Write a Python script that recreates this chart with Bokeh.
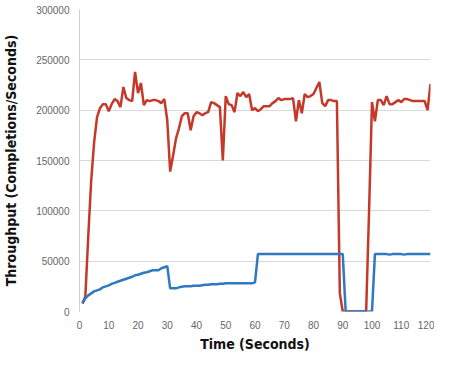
from bokeh.plotting import figure
from bokeh.models import Range1d, FixedTicker, NumeralTickFormatter
from bokeh.embed import file_html
from bokeh.resources import INLINE

time_s = list(range(1, 121))

red_throughput = [
    8000, 15000, 75000, 130000, 168000, 193000, 202000, 206000, 206000, 199000,
    206000, 211000, 209000, 203000, 223000, 212000, 210000, 209000, 238000, 217000,
    227000, 205000, 210000, 209000, 210000, 210000, 209000, 207000, 211000, 190000,
    139000, 155000, 172000, 182000, 194000, 197000, 197000, 180000, 194000, 198000,
    197000, 195000, 197000, 198000, 208000, 207000, 205000, 203000, 150000, 214000,
    206000, 205000, 198000, 217000, 214000, 218000, 213000, 216000, 200000, 202000,
    199000, 201000, 204000, 204000, 204000, 207000, 209000, 212000, 210000, 211000,
    211000, 211000, 212000, 189000, 210000, 197000, 216000, 213000, 214000, 216000,
    222000, 228000, 207000, 204000, 210000, 210000, 209000, 209000, 18000, 0,
    0, 0, 0, 0, 0, 0, 0, 0, 100000, 208000,
    189000, 210000, 210000, 205000, 214000, 206000, 206000, 208000, 210000, 208000,
    211000, 211000, 210000, 209000, 209000, 209000, 209000, 209000, 200000, 226000,
]

blue_throughput = [
    8000, 13000, 16000, 18000, 20000, 21000, 22000, 24000, 25000, 26000,
    27500, 28500, 29500, 30500, 31500, 32500, 33500, 34500, 36000, 36500,
    37500, 38500, 39000, 40000, 41000, 41000, 41000, 43000, 44000, 45000,
    23000, 23000, 23000, 24000, 24500, 25000, 25000, 25000, 25500, 25500,
    25500, 26000, 26500, 26500, 27000, 27000, 27000, 27500, 27500, 28000,
    28000, 28000, 28000, 28000, 28000, 28000, 28000, 28000, 28000, 29000,
    57000, 57000, 57000, 57000, 57000, 57000, 57000, 57000, 57000, 57000,
    57000, 57000, 57000, 57000, 57000, 57000, 57000, 57000, 57000, 57000,
    57000, 57000, 57000, 57000, 57000, 57000, 57000, 57000, 57000, 57000,
    0, 0, 0, 0, 0, 0, 0, 0, 0, 0,
    57000, 57000, 57000, 57000, 57000, 56500, 57000, 57000, 57000, 57000,
    56500, 57000, 57000, 57000, 57000, 57000, 57000, 57000, 57000, 57000,
]

x_ticks = list(range(0, 121, 10))
y_ticks = list(range(0, 300001, 50000))

p = figure(width=434, height=354, output_backend="svg", toolbar_location=None,
           x_range=Range1d(0, 120), y_range=Range1d(0, 300000),
           min_border_left=71, min_border_right=4, min_border_top=9, min_border_bottom=0)
p.outline_line_color = None
p.background_fill_color = "white"

p.line(time_s, red_throughput, line_color="#c4392a", line_width=2.5)
p.line(time_s, blue_throughput, line_color="#2f78c2", line_width=2.5)

p.xgrid.grid_line_color = None
p.ygrid.grid_line_color = "#d9d9d9"
p.ygrid.grid_line_width = 1.2
p.xaxis.ticker = FixedTicker(ticks=x_ticks)
p.yaxis.ticker = FixedTicker(ticks=y_ticks)
p.yaxis.formatter = NumeralTickFormatter(format="0")

title_font = "'DejaVu Sans Condensed', 'DejaVu Sans'"
for ax in (p.xaxis[0], p.yaxis[0]):
    ax.major_tick_line_color = None
    ax.minor_tick_line_color = None
    ax.major_tick_out = 0
    ax.major_tick_in = 0
    ax.minor_tick_out = 0
    ax.minor_tick_in = 0
    ax.major_label_text_font = "Liberation Sans"
    ax.major_label_text_font_size = "10px"
    ax.major_label_text_color = "#666666"
    ax.axis_label_text_font = title_font
    ax.axis_label_text_font_style = "bold"
    ax.axis_label_text_font_size = "14px"
    ax.axis_label_text_color = "#111111"

p.xaxis.axis_line_color = None
p.yaxis.axis_line_color = "#d0d0d0"
p.xaxis.major_label_standoff = 9
p.yaxis.major_label_standoff = 10
p.xaxis.axis_label = "Time (Seconds)"
p.yaxis.axis_label = "Throughput (Completions/Seconds)"
p.xaxis.axis_label_standoff = 4
p.yaxis.axis_label_standoff = 14

open("out.html", "w").write(file_html(p, INLINE))
